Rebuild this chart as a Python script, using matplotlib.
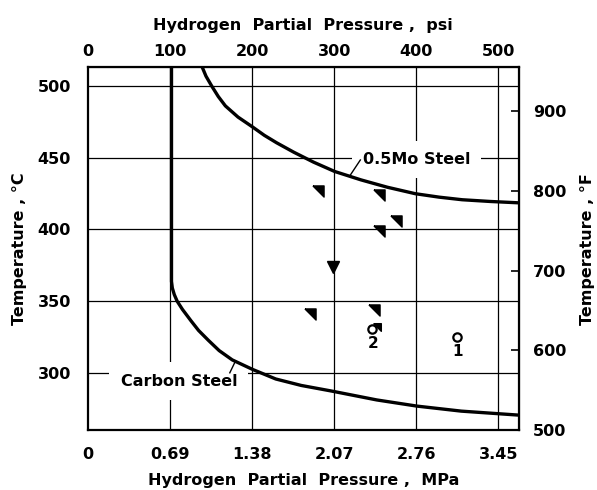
import matplotlib.pyplot as plt

plt.rcParams['font.family'] = ['DejaVu Sans']
plt.rcParams['font.weight'] = 'bold'
plt.rcParams['axes.labelweight'] = 'bold'

# axis ticks
psi_ticks = [0, 100, 200, 300, 400, 500]
mpa_labels = ['0', '0.69', '1.38', '2.07', '2.76', '3.45']
degc_ticks = [300, 350, 400, 450, 500]
degf_ticks = [500, 600, 700, 800, 900]

# carbon steel curve (psi, degC)
cs_psi = [102, 102, 103, 105.4, 108.9, 115.3, 125.8, 135, 147, 160, 176, 201, 229, 260,
          296, 352, 401, 455, 523]
cs_t = [513, 363.7, 359.1, 354.5, 349.9, 344.2, 336.2, 329.5, 322.6, 315.5, 309, 302.3,
        295.7, 291.2, 287.4, 281.1, 276.8, 273.3, 270.6]

# 0.5Mo steel curve (psi, degC)
mo_psi = [139.4, 144, 151, 159, 167.6, 183, 201, 215, 230, 251, 275, 300.7, 333, 365,
          399, 428, 456, 490, 523]
mo_t = [513, 506.7, 499.8, 492.5, 486, 478.2, 471.2, 465.5, 460.3, 453.7, 446.8, 440.3,
        434.4, 429.3, 424.8, 422.4, 420.6, 419.4, 418.5]

# data points
wedge_psi = [280, 355, 376, 355, 271, 349, 352]
wedge_t = [427, 424, 406, 399, 341, 344, 332]
wedge_size = [8, 8, 8, 8, 8, 8, 5.5]
down_psi = [299]
down_t = [374]
circ_psi = [346, 450]
circ_t = [330.3, 325]
circ_labels = ['2', '1']

fig = plt.figure(figsize=(5.97, 4.90), dpi=100)
ax = fig.add_axes([0.147, 0.122, 0.722, 0.741])

ax.set_xlim(0, 525)
ax.set_ylim(260, 513)

for v in psi_ticks[1:]:
    ax.axvline(v, color='black', lw=0.9, zorder=1)
for h in degc_ticks:
    ax.axhline(h, color='black', lw=0.9, zorder=1)

ax.plot(cs_psi, cs_t, color='black', lw=2.4, zorder=4, solid_joinstyle='round')
ax.plot(mo_psi, mo_t, color='black', lw=2.4, zorder=4, solid_joinstyle='round')

wedge = [(-1, 1), (1, 1), (1, -1), (-1, 1)]
for x, y, s in zip(wedge_psi, wedge_t, wedge_size):
    ax.plot(x, y, marker=wedge, ms=s, color='black', ls='none', zorder=5)
ax.plot(down_psi, down_t, marker='v', ms=8, color='black', ls='none', zorder=5)
ax.plot(circ_psi, circ_t, marker='o', ms=6, mfc='white', mec='black', mew=1.6,
        ls='none', zorder=5)
for x, y, s in zip(circ_psi, circ_t, circ_labels):
    ax.text(x + 1, y - 10, s, ha='center', va='center', fontsize=11, zorder=5)

box = dict(boxstyle='square,pad=0.7', fc='white', ec='none')
ax.text(335, 448.5, '0.5Mo Steel', ha='left', va='center', fontsize=11.5,
        bbox=box, zorder=2)
ax.plot([319, 332], [437.1, 448.3], color='black', lw=1.0, zorder=3)
ax.text(40, 294.2, 'Carbon Steel', ha='left', va='center', fontsize=11.5,
        bbox=box, zorder=2)
ax.plot([173, 180], [300, 308.3], color='black', lw=1.0, zorder=3)

for sp in ax.spines.values():
    sp.set_linewidth(1.6)

ax.set_xticks(psi_ticks)
ax.set_xticklabels(mpa_labels)
ax.set_yticks(degc_ticks)
ax.tick_params(axis='both', length=0, labelsize=11.5)
ax.tick_params(axis='x', pad=12)
ax.tick_params(axis='y', pad=12)
ax.set_xlabel('Hydrogen  Partial  Pressure ,  MPa', fontsize=11.5, labelpad=8)
ax.set_ylabel('Temperature , °C', fontsize=11.5, labelpad=8)

top = ax.secondary_xaxis('top')
top.set_xticks(psi_ticks)
top.tick_params(length=0, labelsize=11.5, pad=6)
top.set_xlabel('Hydrogen  Partial  Pressure ,  psi', fontsize=11.5, labelpad=10)

right = ax.secondary_yaxis('right', functions=(lambda c: c * 9 / 5 + 32,
                                               lambda f: (f - 32) * 5 / 9))
right.set_yticks(degf_ticks)
right.tick_params(direction='in', length=6, width=1.2, labelsize=11.5, pad=10)
right.set_ylabel('Temperature , °F', fontsize=11.5, labelpad=10)

fig.savefig('out.png', dpi=100)
